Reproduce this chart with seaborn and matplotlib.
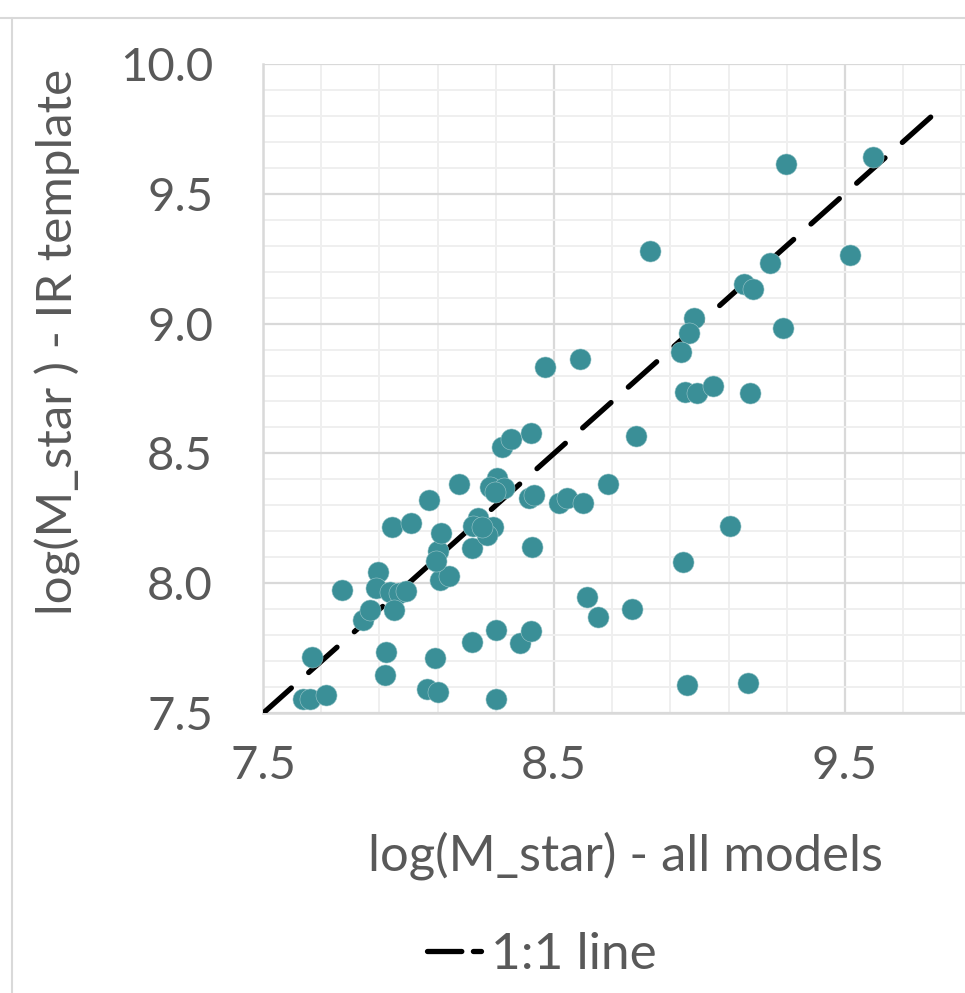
import matplotlib
matplotlib.use("Agg")
import matplotlib.pyplot as plt
from matplotlib.lines import Line2D
from matplotlib.ticker import MultipleLocator, FixedLocator
import seaborn as sns
import numpy as np
import pandas as pd

# Stellar mass estimates: all models (x) vs. IR template only (y)
mstar_all_models = [
    7.637, 7.662, 7.718, 7.669, 7.924, 7.920, 8.064, 8.103, 8.091, 8.301,
    8.217, 8.299, 8.382, 8.420, 7.842, 7.867, 7.773, 7.894, 7.888, 7.938,
    7.968, 7.993, 7.949, 8.108, 8.140, 8.100, 8.096, 8.112, 7.944, 8.007,
    8.071, 8.175, 8.218, 8.240, 8.223, 8.291, 8.270, 8.253, 8.305, 8.280,
    8.328, 8.297, 8.323, 8.351, 8.421, 8.414, 8.431, 8.424, 8.516, 8.546,
    8.601, 8.687, 8.782, 8.612, 8.652, 8.767, 8.469, 8.589, 8.950, 8.990,
    9.045, 9.174, 9.105, 8.944, 8.956, 9.168, 9.297, 9.597, 8.830, 9.517,
    9.242, 9.153, 9.185, 8.982, 8.965, 8.937, 9.286,
]
mstar_ir_template = [
    7.555, 7.555, 7.570, 7.718, 7.736, 7.646, 7.594, 7.583, 7.714, 7.554,
    7.774, 7.820, 7.771, 7.817, 7.859, 7.899, 7.974, 8.043, 7.982, 7.967,
    7.963, 7.972, 7.897, 8.013, 8.028, 8.124, 8.086, 8.194, 8.217, 8.232,
    8.320, 8.384, 8.136, 8.251, 8.221, 8.218, 8.186, 8.217, 8.405, 8.371,
    8.367, 8.353, 8.526, 8.557, 8.579, 8.327, 8.340, 8.140, 8.311, 8.327,
    8.310, 8.382, 8.569, 7.947, 7.871, 7.902, 8.834, 8.862, 8.735, 8.731,
    8.761, 8.731, 8.221, 8.083, 7.609, 7.617, 9.614, 9.640, 9.279, 9.264,
    9.234, 9.152, 9.132, 9.022, 8.965, 8.891, 8.982,
]

# Reference 1:1 relation
one_to_one_x = [7.5, 9.8]
one_to_one_y = [7.5, 9.8]
one_to_one_label = "1:1 line"

x_label = "log(M_star) - all models"
y_label = "log(M_star ) - IR template"
x_ticks = [7.5, 8.5, 9.5]
y_ticks = [7.5, 8.0, 8.5, 9.0, 9.5, 10.0]

sns.set_theme(style="white")
plt.rcParams["font.family"] = ["Lato", "DejaVu Sans"]

TEXT = "#595959"
MAJOR = "#d9d9d9"
MINOR = "#efefef"
POINT = "#3a8f97"

points = pd.DataFrame({"all": mstar_all_models, "ir": mstar_ir_template})
line = pd.DataFrame({"x": one_to_one_x, "y": one_to_one_y})

fig = plt.figure(figsize=(9.65, 9.93), dpi=100)
ax = fig.add_axes([263 / 965, 279.7 / 993, 727.5 / 965, 649.6 / 993])

sns.lineplot(data=line, x="x", y="y", ax=ax, color="black", lw=3.8,
             zorder=3, legend=False)
ln = ax.get_lines()[-1]
ln.set_linestyle((0, (7.2, 4.4)))
ln.set_dash_capstyle("round")

sns.scatterplot(data=points, x="all", y="ir", ax=ax, color=POINT, s=230,
                edgecolor="#9cc7ca", linewidth=0.4, zorder=4, legend=False)

ax.set_xlim(7.5, 10.0)
ax.set_ylim(7.5, 10.0)
ax.xaxis.set_major_locator(FixedLocator(x_ticks))
ax.yaxis.set_major_locator(FixedLocator(y_ticks))
ax.xaxis.set_minor_locator(FixedLocator(np.arange(7.7, 10.0, 0.2)))
ax.yaxis.set_minor_locator(MultipleLocator(0.1))
ax.set_xticklabels([f"{v:.1f}" for v in x_ticks])
ax.set_yticklabels([f"{v:.1f}" for v in y_ticks])

ax.grid(which="major", color=MAJOR, lw=1.6, zorder=0)
ax.grid(which="minor", color=MINOR, lw=1.4, zorder=0)
ax.set_axisbelow(True)
ax.tick_params(which="both", length=0, labelsize=34, labelcolor=TEXT)
ax.tick_params(axis="y", pad=36)
ax.tick_params(axis="x", pad=23)

for side in ("top", "right"):
    ax.spines[side].set_visible(False)
for side in ("left", "bottom"):
    ax.spines[side].set_color(MAJOR)
    ax.spines[side].set_linewidth(1.8)

ax.set_xlabel(x_label, fontsize=36.5, color=TEXT, labelpad=32)
ax.set_ylabel(y_label, fontsize=35.5, color=TEXT, labelpad=28)
ax.xaxis.label.set_x((625 - 263) / 727.5)
ax.yaxis.label.set_y((713.3 - 342) / 649.6)

handle = Line2D([], [], color="black", lw=3.8, linestyle=(0, (6.5, 2.2)),
                dash_capstyle="round")
fig.legend([handle], [one_to_one_label], loc="center",
           bbox_to_anchor=(542 / 965, 1 - 955 / 993), frameon=False,
           fontsize=37, labelcolor=TEXT, handlelength=1.05, handletextpad=0.2)

# Chart area border
fig.add_artist(Line2D([0, 1], [1 - 17.5 / 993] * 2, color=MAJOR, lw=1.5,
                      transform=fig.transFigure))
fig.add_artist(Line2D([12 / 965] * 2, [0, 1 - 17.5 / 993], color=MAJOR, lw=1.5,
                      transform=fig.transFigure))

fig.savefig("out.png", dpi=100)
